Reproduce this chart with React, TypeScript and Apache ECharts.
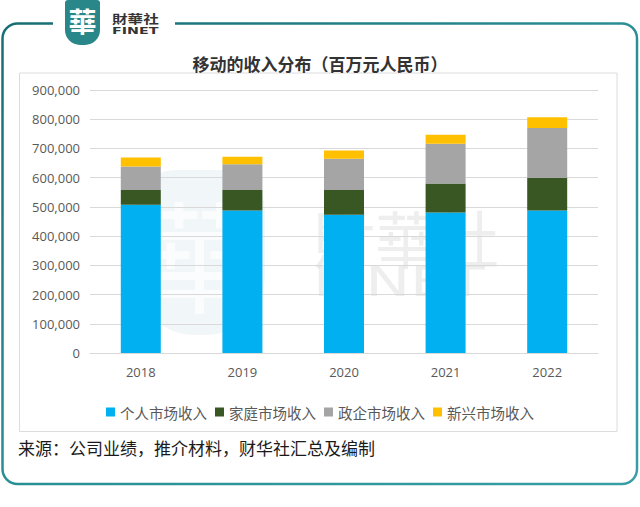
import React, { useEffect, useRef } from "react";
import * as echarts from "echarts";

const years = ["2018", "2019", "2020", "2021", "2022"];
const seriesNames = ["个人市场收入", "家庭市场收入", "政企市场收入", "新兴市场收入"];
const personal = [507000, 488000, 473000, 481000, 488000];
const home = [51000, 70000, 85000, 99000, 112000];
const enterprise = [80000, 88000, 107000, 136000, 170000];
const emerging = [31000, 26000, 28000, 31000, 37000];
const colors = ["#00B0F0", "#385723", "#A5A5A5", "#FFC000"];
const titleText = "移动的收入分布（百万元人民币）";
const sourceText = "来源：公司业绩，推介材料，财华社汇总及编制";

const CJK = '"Noto Sans CJK SC", "Noto Sans", sans-serif';
const LAT = '"Open Sans", "Noto Sans", sans-serif';

function fmt(v: number): string {
  return String(Math.round(v)).replace(/\B(?=(\d{3})+(?!\d))/g, ",");
}

export default function App() {
  const ref = useRef<HTMLDivElement>(null);
  useEffect(() => {
    if (!ref.current) return;
    const chart = echarts.init(ref.current, null, { renderer: "svg" });
    const values = [personal, home, enterprise, emerging];
    const frameStroke = new echarts.graphic.LinearGradient(0, 0, 1, 1, [
      { offset: 0, color: "#176d74" },
      { offset: 0.5, color: "#2a8e95" },
      { offset: 1, color: "#3a9ea6" },
    ]);
    chart.setOption({
      animation: false,
      backgroundColor: "#ffffff",
      title: {
        text: titleText,
        left: "center",
        top: 48,
        textStyle: { fontSize: 17, fontWeight: "bold", color: "#333333", fontFamily: CJK, lineHeight: 20 },
      },
      legend: {
        data: seriesNames,
        left: 101,
        top: 398,
        icon: "rect",
        itemWidth: 9,
        itemHeight: 9,
        itemGap: 8,
        textStyle: { fontSize: 14.5, color: "#595959", fontFamily: CJK, lineHeight: 18 },
      },
      grid: { left: 90, right: 42, top: 90, bottom: 154 },
      xAxis: {
        type: "category",
        data: years,
        axisTick: { show: false },
        axisLine: { lineStyle: { color: "#d9d9d9" } },
        axisLabel: { margin: 12, fontSize: 13, color: "#595959", fontFamily: LAT },
      },
      yAxis: {
        type: "value",
        min: 0,
        max: 900000,
        interval: 100000,
        axisLine: { show: false },
        axisTick: { show: false },
        axisLabel: { margin: 10, fontSize: 13, color: "#595959", fontFamily: LAT, formatter: (v: number) => fmt(v) },
        splitLine: { lineStyle: { color: "#d9d9d9", width: 1 } },
      },
      series: seriesNames.map((name, i) => ({
        name,
        type: "bar",
        stack: "total",
        barWidth: 40,
        data: values[i],
        itemStyle: { color: colors[i] },
      })),
      graphic: [
        {
          type: "rect",
          z: 0,
          shape: { x: 2.5, y: 23.5, width: 634.5, height: 460.5, r: 15 },
          style: { fill: "rgba(0,0,0,0)", stroke: frameStroke, lineWidth: 2.5 },
        },
        {
          type: "rect",
          z: 1,
          shape: { x: 53, y: 18, width: 122, height: 12 },
          style: { fill: "#ffffff" },
        },
        {
          type: "rect",
          z: 1,
          shape: { x: 19.5, y: 73, width: 597.5, height: 358.5 },
          style: { fill: "rgba(0,0,0,0)", stroke: "#dcdcdc", lineWidth: 1 },
        },
        {
          type: "rect",
          z: 2,
          shape: { x: 65, y: 0, width: 35, height: 45, r: [3, 3, 15, 15] },
          style: { fill: "#2a8789" },
        },
        {
          type: "text",
          z: 3,
          x: 82.5,
          y: 21,
          style: { text: "華", fill: "#ffffff", fontSize: 28, fontFamily: '"Noto Sans CJK TC"', fontWeight: "bold", align: "center", verticalAlign: "middle" },
        },
        {
          type: "text",
          z: 3,
          x: 112,
          y: 13,
          scaleX: 1.3,
          style: { text: "財華社", fill: "#333333", fontSize: 12, fontFamily: '"Noto Sans CJK TC"', fontWeight: "bold", align: "left", verticalAlign: "top" },
        },
        {
          type: "text",
          z: 3,
          x: 112,
          y: 26,
          scaleX: 1.5,
          style: { text: "FINET", fill: "#333333", fontSize: 9.5, fontFamily: '"DejaVu Sans"', fontWeight: "bold", align: "left", verticalAlign: "top" },
        },
        {
          type: "rect",
          z: 0,
          shape: { x: 135, y: 170, width: 130, height: 165, r: [40, 40, 60, 60] },
          style: { fill: "rgba(170,200,215,0.16)" },
        },
        {
          type: "text",
          z: 0,
          x: 200,
          y: 252,
          style: { text: "華", fill: "rgba(255,255,255,0.7)", fontSize: 120, fontFamily: '"Noto Sans CJK TC"', align: "center", verticalAlign: "middle" },
        },
        {
          type: "text",
          z: 0,
          x: 313,
          y: 237,
          style: { text: "財華社", fill: "rgba(200,200,200,0.3)", fontSize: 62, fontFamily: '"Noto Sans CJK TC"', align: "left", verticalAlign: "middle" },
        },
        {
          type: "text",
          z: 0,
          x: 313,
          y: 282,
          scaleX: 1.5,
          style: { text: "FINET", fill: "rgba(200,200,200,0.3)", fontSize: 40, fontFamily: '"DejaVu Sans"', align: "left", verticalAlign: "middle" },
        },
        {
          type: "text",
          z: 3,
          x: 18,
          y: 447,
          style: { text: sourceText, fill: "#1a1a1a", fontSize: 17, fontFamily: CJK, align: "left", verticalAlign: "middle" },
        },
      ],
    });
    return () => chart.dispose();
  }, []);
  return <div ref={ref} style={{ position: "fixed", left: 0, top: 0, width: 640, height: 507 }} />;
}
